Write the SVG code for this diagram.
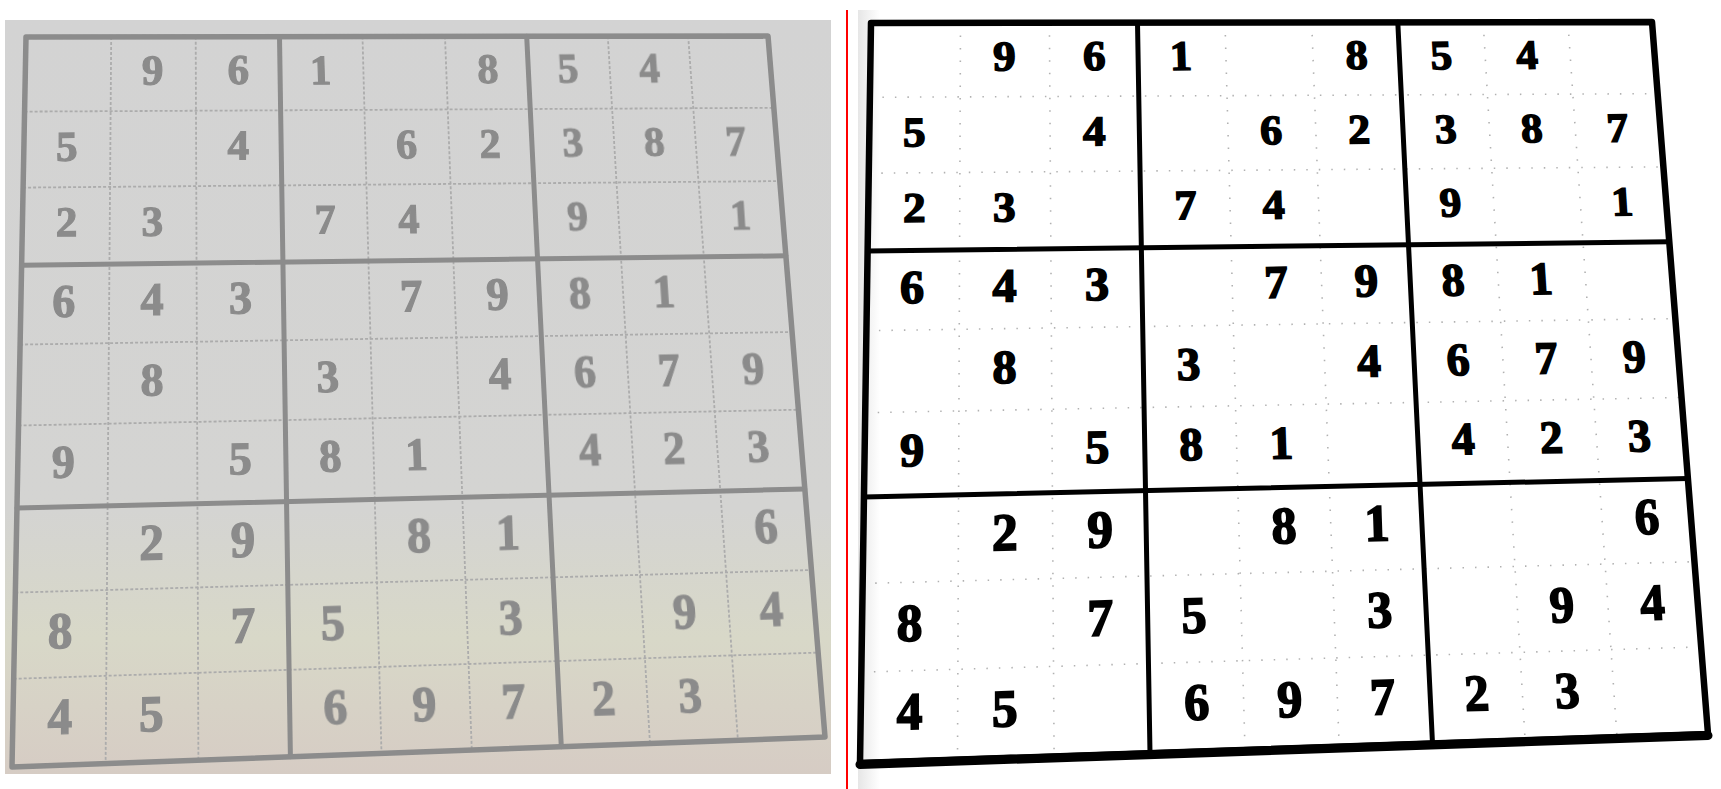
<svg xmlns="http://www.w3.org/2000/svg" width="1721" height="789" viewBox="0 0 1721 789">
<defs>
<linearGradient id="bgL" x1="0" y1="0" x2="0" y2="1">
<stop offset="0" stop-color="#d3d3d3"/>
<stop offset="0.65" stop-color="#d4d4d2"/>
<stop offset="0.82" stop-color="#d8d8c8"/>
<stop offset="1" stop-color="#d6ccc4"/>
</linearGradient>
<linearGradient id="edgeR" x1="0" y1="0" x2="1" y2="0">
<stop offset="0" stop-color="#e6e6e6"/>
<stop offset="1" stop-color="#ffffff"/>
</linearGradient>
<filter id="soft" x="-5%" y="-5%" width="110%" height="110%"><feGaussianBlur stdDeviation="0.7"/></filter>
</defs>
<style>
text{font-family:"Liberation Serif","Times New Roman",serif;font-weight:bold;text-anchor:middle}
.dl text{fill:#8b8b8b;stroke:#8b8b8b;stroke-width:1.5}
.dr text{fill:#000;stroke:#000;stroke-width:2}
.r0{font-size:56px}.r1{font-size:58px}.r2{font-size:60px}
.thinL{stroke:#acacac;stroke-width:1.8;stroke-dasharray:3 2;fill:none}
.thickL{stroke:#8c8c8c;stroke-width:5;fill:none;stroke-linecap:round}
.thinR{stroke:#000;stroke-width:1.6;stroke-dasharray:1.5 11;opacity:.3;fill:none}
.thickR{stroke:#000;stroke-width:5;fill:none;stroke-linecap:round}
</style>
<rect width="1721" height="789" fill="#fff"/>

<g id="left-panel">
<rect x="5" y="20" width="826" height="754" fill="url(#bgL)"/>
<g id="left-grid" filter="url(#soft)">
<g class="thinL">
<line x1="111.2" y1="36.9" x2="105.6" y2="763.5"/>
<line x1="195.7" y1="36.8" x2="198.4" y2="760.1"/>
<line x1="362.5" y1="36.6" x2="381.5" y2="753.4"/>
<line x1="445.0" y1="36.4" x2="471.8" y2="750.0"/>
<line x1="607.8" y1="36.2" x2="650.0" y2="743.5"/>
<line x1="688.2" y1="36.1" x2="737.9" y2="740.2"/>
<line x1="24.6" y1="111.6" x2="773.9" y2="107.8"/>
<line x1="23.1" y1="187.6" x2="779.8" y2="181.1"/>
<line x1="20.1" y1="344.6" x2="792.1" y2="332.0"/>
<line x1="18.6" y1="425.5" x2="798.4" y2="409.7"/>
<line x1="15.3" y1="592.6" x2="811.4" y2="570.0"/>
<line x1="13.7" y1="678.8" x2="818.1" y2="652.6"/>
</g>
<g class="thickL">
<line x1="279.5" y1="36.7" x2="290.4" y2="756.7"/>
<line x1="526.7" y1="36.3" x2="561.3" y2="746.7"/>
<line x1="21.6" y1="265.3" x2="785.9" y2="255.8"/>
<line x1="17.0" y1="508.1" x2="804.8" y2="489.0"/>
<polygon points="26,37 768,36 825,737 12,767" stroke-width="5.5" stroke-linejoin="round"/>
</g>
</g>
<g id="left-digits" class="dl" filter="url(#soft)">
<g class="r0" transform="matrix(0.85782 -0.006 -0.00162 0.7561 24.05 37.73)"><g transform="scale(0.9 1)">
<text x="166.7" y="63">9</text><text x="277.8" y="63">6</text>
<text x="55.6" y="163">5</text><text x="277.8" y="163">4</text>
<text x="55.6" y="263">2</text><text x="166.7" y="263">3</text>
</g></g>
<g class="r0" transform="matrix(0.83655 -0.00587 0.02372 0.7465 277.60 37.38)"><g transform="scale(0.9 1)">
<text x="55.6" y="63">1</text><text x="277.8" y="63">8</text>
<text x="166.7" y="163">6</text><text x="277.8" y="163">2</text>
<text x="55.6" y="263">7</text><text x="166.7" y="263">4</text>
</g></g>
<g class="r0" transform="matrix(0.81605 -0.00568 0.04782 0.73715 524.95 37.01)"><g transform="scale(0.9 1)">
<text x="55.6" y="63">5</text><text x="166.7" y="63">4</text>
<text x="55.6" y="163">3</text><text x="166.7" y="163">8</text><text x="277.8" y="163">7</text>
<text x="55.6" y="263">9</text><text x="277.8" y="263">1</text>
</g></g>
<g class="r1" transform="matrix(0.88462 -0.01635 -0.00172 0.80402 19.54 266.11)"><g transform="scale(0.9 1)">
<text x="55.6" y="64">6</text><text x="166.7" y="64">4</text><text x="277.8" y="64">3</text>
<text x="166.7" y="164">8</text>
<text x="55.6" y="264">9</text><text x="277.8" y="264">5</text>
</g></g>
<g class="r1" transform="matrix(0.862 -0.01593 0.0252 0.7932 280.90 262.83)"><g transform="scale(0.9 1)">
<text x="166.7" y="64">7</text><text x="277.8" y="64">9</text>
<text x="55.6" y="164">3</text><text x="277.8" y="164">4</text>
<text x="55.6" y="264">8</text><text x="166.7" y="264">1</text>
</g></g>
<g class="r1" transform="matrix(0.84027 -0.0155 0.05077 0.78267 535.66 259.63)"><g transform="scale(0.9 1)">
<text x="55.6" y="64">8</text><text x="166.7" y="64">1</text>
<text x="55.6" y="164">6</text><text x="166.7" y="164">7</text><text x="277.8" y="164">9</text>
<text x="55.6" y="264">4</text><text x="166.7" y="264">2</text><text x="277.8" y="264">3</text>
</g></g>
<g class="r2" transform="matrix(0.91313 -0.02803 -0.00183 0.85667 14.75 509.07)"><g transform="scale(0.9 1)">
<text x="166.7" y="64">2</text><text x="277.8" y="64">9</text>
<text x="55.6" y="164">8</text><text x="277.8" y="164">7</text>
<text x="55.6" y="264">4</text><text x="166.7" y="264">5</text>
</g></g>
<g class="r2" transform="matrix(0.88905 -0.0273 0.02682 0.84443 284.40 502.50)"><g transform="scale(0.9 1)">
<text x="166.7" y="64">8</text><text x="277.8" y="64">1</text>
<text x="55.6" y="164">5</text><text x="277.8" y="164">3</text>
<text x="55.6" y="264">6</text><text x="166.7" y="264">9</text><text x="277.8" y="264">7</text>
</g></g>
<g class="r2" transform="matrix(0.86595 -0.02657 0.05398 0.83253 547.04 496.10)"><g transform="scale(0.9 1)">
<text x="277.8" y="64">6</text>
<text x="166.7" y="164">9</text><text x="277.8" y="164">4</text>
<text x="55.6" y="264">2</text><text x="166.7" y="264">3</text>
</g></g>
</g>
</g>

<g id="divider">
<line x1="847" y1="10" x2="847" y2="789" stroke="#ff0000" stroke-width="2"/>
</g>

<g id="right-panel">
<rect x="858" y="10" width="22" height="779" fill="url(#edgeR)"/>
<g id="right-grid">
<g class="thinR">
<line x1="960.5" y1="22.9" x2="957.5" y2="759.7"/>
<line x1="1049.4" y1="22.8" x2="1054.1" y2="756.4"/>
<line x1="1225.0" y1="22.6" x2="1245.0" y2="749.8"/>
<line x1="1311.7" y1="22.4" x2="1339.2" y2="746.6"/>
<line x1="1483.2" y1="22.2" x2="1525.1" y2="740.3"/>
<line x1="1567.9" y1="22.1" x2="1617.0" y2="737.1"/>
<line x1="869.9" y1="97.3" x2="1657.6" y2="93.7"/>
<line x1="868.8" y1="173.2" x2="1663.4" y2="166.9"/>
<line x1="866.4" y1="330.7" x2="1675.3" y2="318.6"/>
<line x1="865.2" y1="412.7" x2="1681.5" y2="397.5"/>
<line x1="862.7" y1="583.5" x2="1694.5" y2="561.7"/>
<line x1="861.4" y1="672.2" x2="1701.2" y2="646.9"/>
</g>
<g class="thickR">
<line x1="1137.5" y1="22.7" x2="1150.0" y2="753.1"/>
<line x1="1397.8" y1="22.3" x2="1432.5" y2="743.4"/>
<line x1="867.6" y1="250.9" x2="1669.3" y2="241.8"/>
<line x1="864.0" y1="496.9" x2="1687.9" y2="478.5"/>
<polygon points="871,23 1652,22 1708,734 860,763" stroke-width="6.5" stroke-linejoin="round"/>
<line x1="860" y1="764.5" x2="1708" y2="735.5" stroke-width="9"/>
</g>
</g>
<g id="right-digits" class="dr">
<g class="r0" transform="matrix(0.90042 -0.00578 0.00075 0.75515 869.19 23.69)"><g transform="scale(0.9 1)">
<text x="166.7" y="63">9</text><text x="277.8" y="63">6</text>
<text x="55.6" y="163">5</text><text x="277.8" y="163">4</text>
<text x="55.6" y="263">2</text><text x="166.7" y="263">3</text>
</g></g>
<g class="r0" transform="matrix(0.879 -0.00563 0.02427 0.74597 1135.79 23.34)"><g transform="scale(0.9 1)">
<text x="55.6" y="63">1</text><text x="277.8" y="63">8</text>
<text x="166.7" y="163">6</text><text x="277.8" y="163">2</text>
<text x="55.6" y="263">7</text><text x="166.7" y="263">4</text>
</g></g>
<g class="r0" transform="matrix(0.85837 -0.00552 0.04667 0.73702 1396.13 22.99)"><g transform="scale(0.9 1)">
<text x="55.6" y="63">5</text><text x="166.7" y="63">4</text>
<text x="55.6" y="163">3</text><text x="166.7" y="163">8</text><text x="277.8" y="163">7</text>
<text x="55.6" y="263">9</text><text x="277.8" y="263">1</text>
</g></g>
<g class="r1" transform="matrix(0.92545 -0.01572 0.00082 0.81465 865.66 251.73)"><g transform="scale(0.9 1)">
<text x="55.6" y="64">6</text><text x="166.7" y="64">4</text><text x="277.8" y="64">3</text>
<text x="166.7" y="164">8</text>
<text x="55.6" y="264">9</text><text x="277.8" y="264">5</text>
</g></g>
<g class="r1" transform="matrix(0.90283 -0.01532 0.02617 0.80422 1139.50 248.58)"><g transform="scale(0.9 1)">
<text x="166.7" y="64">7</text><text x="277.8" y="64">9</text>
<text x="55.6" y="164">3</text><text x="277.8" y="164">4</text>
<text x="55.6" y="264">8</text><text x="166.7" y="264">1</text>
</g></g>
<g class="r1" transform="matrix(0.88108 -0.01495 0.05032 0.79405 1406.72 245.51)"><g transform="scale(0.9 1)">
<text x="55.6" y="64">8</text><text x="166.7" y="64">1</text>
<text x="55.6" y="164">6</text><text x="166.7" y="164">7</text><text x="277.8" y="164">9</text>
<text x="55.6" y="264">4</text><text x="166.7" y="264">2</text><text x="277.8" y="264">3</text>
</g></g>
<g class="r2" transform="matrix(0.95248 -0.02703 0.00085 0.8809 861.85 497.83)"><g transform="scale(0.9 1)">
<text x="166.7" y="64">2</text><text x="277.8" y="64">9</text>
<text x="55.6" y="164">8</text><text x="277.8" y="164">7</text>
<text x="55.6" y="264">4</text><text x="166.7" y="264">5</text>
</g></g>
<g class="r2" transform="matrix(0.92857 -0.02633 0.02827 0.869 1143.48 491.50)"><g transform="scale(0.9 1)">
<text x="166.7" y="64">8</text><text x="277.8" y="64">1</text>
<text x="55.6" y="164">5</text><text x="277.8" y="164">3</text>
<text x="55.6" y="264">6</text><text x="166.7" y="264">9</text><text x="277.8" y="264">7</text>
</g></g>
<g class="r2" transform="matrix(0.90553 -0.02568 0.0543 0.85742 1418.16 485.34)"><g transform="scale(0.9 1)">
<text x="277.8" y="64">6</text>
<text x="166.7" y="164">9</text><text x="277.8" y="164">4</text>
<text x="55.6" y="264">2</text><text x="166.7" y="264">3</text>
</g></g>
</g>
</g>
</svg>
